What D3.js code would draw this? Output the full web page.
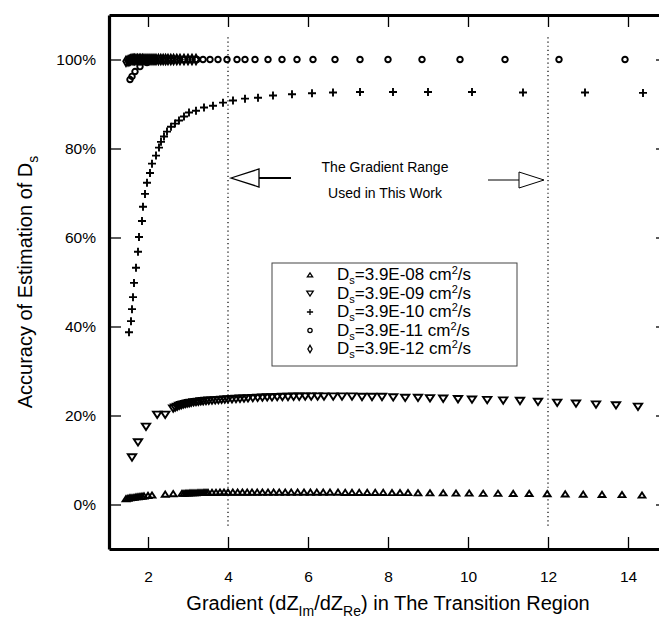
<!DOCTYPE html>
<html>
<head>
<meta charset="utf-8">
<script src="https://cdn.jsdelivr.net/npm/d3@7"></script>
<style>
  body { margin: 0; background: #fff; }
  svg { font-family: "Liberation Sans", Arial, sans-serif; }
</style>
</head>
<body>
<div id="chart"></div>
<script>
// tick values
const xTicks = [2, 4, 6, 8, 10, 12, 14];
const yTicks = [0, 20, 40, 60, 80, 100];
const rangeLines = [4, 12];

// Ds = 3.9E-08 (up triangles)
const aX = [1.45, 1.5, 1.55, 1.6, 1.65, 1.7, 1.75, 1.8, 1.85, 1.9, 2.0, 2.1, 2.43, 2.63,
  2.85, 2.9, 2.95, 3.0, 3.05, 3.1, 3.15, 3.2, 3.25, 3.3, 3.35, 3.4, 3.45, 3.5, 3.6, 3.7, 3.8, 3.9, 4.0,
  4.12, 4.24, 4.36, 4.48, 4.6, 4.73, 4.86, 5.0, 5.14, 5.28, 5.43, 5.58, 5.74, 5.9, 6.06, 6.22, 6.38,
  6.55, 6.75, 6.93, 7.1, 7.28, 7.48, 7.68, 7.88, 8.1, 8.3, 8.5, 8.75, 9.05, 9.38, 9.7, 10.03, 10.38,
  10.75, 11.13, 11.53, 11.98, 12.43, 12.88, 13.35, 13.85, 14.35];
const aY = [1.3, 1.4, 1.5, 1.55, 1.6, 1.7, 1.75, 1.8, 1.85, 1.9, 2.0, 2.1, 2.3, 2.4,
  2.5, 2.5, 2.55, 2.55, 2.6, 2.6, 2.6, 2.6, 2.65, 2.65, 2.65, 2.7, 2.7, 2.7, 2.7, 2.7, 2.75, 2.75, 2.75,
  2.75, 2.75, 2.75, 2.75, 2.75, 2.75, 2.75, 2.75, 2.75, 2.75, 2.75, 2.75, 2.75, 2.75, 2.75, 2.75, 2.75,
  2.75, 2.75, 2.7, 2.7, 2.7, 2.7, 2.7, 2.7, 2.65, 2.65, 2.65, 2.6, 2.6, 2.6, 2.55, 2.55, 2.5,
  2.5, 2.45, 2.45, 2.4, 2.35, 2.3, 2.25, 2.2, 2.1];

// Ds = 3.9E-09 (down triangles)
const bX = [1.6, 1.75, 1.95, 2.23, 2.43, 2.63, 2.68, 2.73, 2.78, 2.83, 2.88, 2.93, 2.98, 3.03, 3.08,
  3.14, 3.2, 3.26, 3.32, 3.38, 3.45, 3.52, 3.6, 3.68, 3.76, 3.84, 3.92, 4.0, 4.1, 4.2, 4.3, 4.4, 4.5,
  4.62, 4.74, 4.86, 4.98, 5.1, 5.23, 5.36, 5.5, 5.64, 5.78, 5.93, 6.08, 6.24, 6.4,
  6.63, 6.85, 7.1, 7.35, 7.6, 7.85, 8.13, 8.43, 8.75, 9.05, 9.38, 9.75, 10.1, 10.48, 10.88, 11.3,
  11.75, 12.23, 12.7, 13.2, 13.7, 14.25];
const bY = [10.6, 14.0, 17.5, 20.2, 20.2, 21.6, 21.8, 22.0, 22.2, 22.35, 22.5, 22.6, 22.7, 22.8, 22.9,
  23.0, 23.05, 23.1, 23.2, 23.25, 23.3, 23.35, 23.4, 23.45, 23.5, 23.55, 23.6, 23.65, 23.7, 23.75, 23.8, 23.85, 23.9,
  23.95, 24.0, 24.05, 24.1, 24.1, 24.15, 24.2, 24.2, 24.25, 24.25, 24.3, 24.3, 24.3, 24.3,
  24.3, 24.3, 24.3, 24.2, 24.2, 24.2, 24.1, 24.0, 24.0, 23.9, 23.8, 23.7, 23.6, 23.5, 23.4, 23.3,
  23.1, 22.9, 22.7, 22.5, 22.3, 22.0];

// Ds = 3.9E-10 (plus)
const cX = [1.525, 1.575, 1.6, 1.625, 1.65, 1.7, 1.75, 1.775, 1.85, 1.875, 1.925, 1.975, 2.05, 2.1,
  2.2, 2.275, 2.325, 2.4, 2.475, 2.575, 2.675, 2.775, 2.9, 3.025, 3.2, 3.4, 3.625, 3.875, 4.125,
  4.425, 4.75, 5.125, 5.6, 6.1, 6.625, 7.3, 8.125, 9.0, 10.1, 11.375, 12.925, 14.375];
const cY = [38.7, 41.2, 43.9, 46.6, 49.8, 53.2, 56.8, 60.1, 63.7, 66.9, 69.8, 72.3, 74.5, 76.6,
  78.4, 80.2, 81.5, 82.7, 83.8, 84.9, 85.6, 86.3, 87.2, 88.1, 88.5, 89.2, 89.6, 90.3, 90.8,
  91.2, 91.4, 91.9, 92.2, 92.4, 92.6, 92.7, 92.7, 92.7, 92.7, 92.6, 92.6, 92.5];

// Ds = 3.9E-11 (circles)
const dX = [1.55, 1.6, 1.675, 1.8, 1.975, 2.175, 2.375, 2.575, 2.725, 2.875, 3.05, 3.225, 3.375,
  3.55, 3.75, 3.975, 4.225, 4.425, 4.675, 5.0, 5.35, 5.725, 6.125, 6.675, 7.3, 8.0, 8.85, 9.8,
  10.925, 12.275, 13.925];
const dY = [95.5, 96.2, 97.3, 98.4, 99.3, 99.7, 99.9, 100, 100, 100, 100, 100, 100,
  100, 100, 100, 100, 100, 100, 100, 100, 100, 100, 100, 100, 100, 100, 100,
  100, 100, 100];

// Ds = 3.9E-12 (diamonds)
const eX = [1.45, 1.5, 1.53, 1.56, 1.6, 1.63, 1.66, 1.7, 1.74, 1.78, 1.82, 1.86, 1.9, 1.95, 2.0,
  2.05, 2.1, 2.15, 2.2, 2.26, 2.32, 2.38, 2.44, 2.5, 2.57, 2.64, 2.72, 2.8, 2.9, 3.0, 3.1, 3.2];
const eY = [99.6, 99.7, 99.8, 99.9, 100, 100, 100, 100, 100, 100, 100, 100, 100, 100, 100,
  100, 100, 100, 100, 100, 100, 100, 100, 100, 100, 100, 100, 100, 100, 100, 100, 100];

const legendLabels = ['3.9E-08', '3.9E-09', '3.9E-10', '3.9E-11', '3.9E-12'];

// plus sign drawn as two strokes
const plusType = {
  draw(ctx, size) {
    const r = Math.sqrt(size) / 2;
    ctx.moveTo(-r, 0); ctx.lineTo(r, 0);
    ctx.moveTo(0, -r); ctx.lineTo(0, r);
  }
};
const downTriangle = {
  draw(ctx, size) {
    const h = Math.sqrt(size * 0.6);
    ctx.moveTo(-h * 0.62, -h * 0.45);
    ctx.lineTo(h * 0.62, -h * 0.45);
    ctx.lineTo(0, h * 0.5);
    ctx.closePath();
  }
};
const upTriangle = {
  draw(ctx, size) {
    const h = Math.sqrt(size * 0.6);
    ctx.moveTo(-h * 0.62, h * 0.45);
    ctx.lineTo(h * 0.62, h * 0.45);
    ctx.lineTo(0, -h * 0.5);
    ctx.closePath();
  }
};

const series = [
  { xs: aX, ys: aY, type: upTriangle, size: 50 },
  { xs: bX, ys: bY, type: downTriangle, size: 75 },
  { xs: cX, ys: cY, type: plusType, size: 64 },
  { xs: dX, ys: dY, type: d3.symbolCircle, size: 24 },
  { xs: eX, ys: eY, type: d3.symbolDiamond, size: 26 }
];

const W = 659, H = 623;
const mLeft = 109, mTop = 15, mBottom = 549, mRight = 668;

const x = d3.scaleLinear().domain([1.025, 15]).range([mLeft, mRight]);
const y = d3.scaleLinear().domain([-10, 110]).range([mBottom, mTop]);

const svg = d3.select('#chart').append('svg')
  .attr('width', W).attr('height', H);

// dotted lines marking the gradient range
svg.selectAll('line.range')
  .data(rangeLines)
  .enter().append('line')
  .attr('class', 'range')
  .attr('x1', d => x(d)).attr('x2', d => x(d))
  .attr('y1', y(105)).attr('y2', y(-5))
  .attr('stroke', '#000').attr('stroke-width', 1.2)
  .attr('stroke-dasharray', '1.2,3');

// axes
const axB = svg.append('g').attr('transform', `translate(0,${mBottom})`)
  .call(d3.axisBottom(x).tickValues(xTicks).tickSize(-12).tickSizeOuter(0).tickPadding(22));
const axT = svg.append('g').attr('transform', `translate(0,${mTop})`)
  .call(d3.axisTop(x).tickValues(xTicks).tickSize(-12).tickSizeOuter(0).tickFormat(''));
const axL = svg.append('g').attr('transform', `translate(${mLeft},0)`)
  .call(d3.axisLeft(y).tickValues(yTicks).tickSize(-12).tickSizeOuter(0).tickPadding(13)
    .tickFormat(d => d + '%'));
const axR = svg.append('g').attr('transform', `translate(${mRight},0)`)
  .call(d3.axisRight(y).tickValues(yTicks).tickSize(-12).tickSizeOuter(0).tickFormat(''));

[axB, axT, axL, axR].forEach(g => {
  g.select('.domain').attr('stroke-width', 3.2).attr('stroke', '#000');
  g.selectAll('.tick line').attr('stroke-width', 1.3).attr('stroke', '#000');
  g.selectAll('.tick text').attr('font-size', 15.5).attr('fill', '#000')
    .attr('font-family', '"Liberation Sans", Arial, sans-serif');
});

// data markers
series.forEach(s => {
  const pts = s.xs.map((v, i) => [v, s.ys[i]]);
  const sym = d3.symbol().type(s.type).size(s.size);
  svg.append('g').selectAll('path')
    .data(pts)
    .enter().append('path')
    .attr('transform', d => `translate(${x(d[0])},${y(d[1])})`)
    .attr('d', sym)
    .attr('fill', 'none')
    .attr('stroke', '#000')
    .attr('stroke-width', 1.9);
});

// legend
const lg = svg.append('g');
lg.append('rect')
  .attr('x', 272).attr('y', 263).attr('width', 245).attr('height', 103)
  .attr('fill', '#fff').attr('stroke', '#444').attr('stroke-width', 1);
legendLabels.forEach((lab, i) => {
  const cy = 275 + i * 18.5;
  const s = series[i];
  lg.append('path')
    .attr('transform', `translate(310,${cy})`)
    .attr('d', d3.symbol().type(s.type).size(s.size * 0.6))
    .attr('fill', 'none').attr('stroke', '#000').attr('stroke-width', 1.3);
  const t = lg.append('text')
    .attr('x', 337).attr('y', cy + 5)
    .attr('font-size', 17).attr('fill', '#000');
  t.append('tspan').text('D');
  t.append('tspan').attr('dy', 4).attr('font-size', 11).text('s');
  t.append('tspan').attr('dy', -4).text('=' + lab + ' cm');
  t.append('tspan').attr('dy', -6).attr('font-size', 11).text('2');
  t.append('tspan').attr('dy', 6).text('/s');
});

// gradient range annotation
const ay1 = 178, ay2 = 180;
svg.append('path')
  .attr('d', `M${x(4) + 3},${ay1} L${x(4) + 31},${ay1 - 9} L${x(4) + 31},${ay1 + 9} Z`)
  .attr('fill', '#fff').attr('stroke', '#000').attr('stroke-width', 1.3);
svg.append('line')
  .attr('x1', x(4) + 31).attr('x2', x(4) + 63).attr('y1', ay1).attr('y2', ay1)
  .attr('stroke', '#000').attr('stroke-width', 2);
svg.append('path')
  .attr('d', `M${x(12) - 4},${ay2} L${x(12) - 29},${ay2 - 8} L${x(12) - 29},${ay2 + 8} Z`)
  .attr('fill', '#fff').attr('stroke', '#000').attr('stroke-width', 1);
svg.append('line')
  .attr('x1', x(12) - 29).attr('x2', x(12) - 60).attr('y1', ay2).attr('y2', ay2)
  .attr('stroke', '#000').attr('stroke-width', 1);
svg.append('text').attr('x', 385).attr('y', 172)
  .attr('text-anchor', 'middle').attr('font-size', 14).text('The Gradient Range');
svg.append('text').attr('x', 385).attr('y', 198)
  .attr('text-anchor', 'middle').attr('font-size', 14).text('Used in This Work');

// axis titles
const yt = svg.append('text')
  .attr('transform', 'rotate(-90)')
  .attr('x', -282).attr('y', 32)
  .attr('text-anchor', 'middle').attr('font-size', 20);
yt.append('tspan').text('Accuracy of Estimation of D');
yt.append('tspan').attr('dy', 6).attr('font-size', 14).text('s');

const xt = svg.append('text')
  .attr('x', 388).attr('y', 610)
  .attr('text-anchor', 'middle').attr('font-size', 20);
xt.append('tspan').text('Gradient (dZ');
xt.append('tspan').attr('dy', 6).attr('font-size', 14).text('Im');
xt.append('tspan').attr('dy', -6).text('/dZ');
xt.append('tspan').attr('dy', 6).attr('font-size', 14).text('Re');
xt.append('tspan').attr('dy', -6).text(') in The Transition Region');
</script>
</body>
</html>
